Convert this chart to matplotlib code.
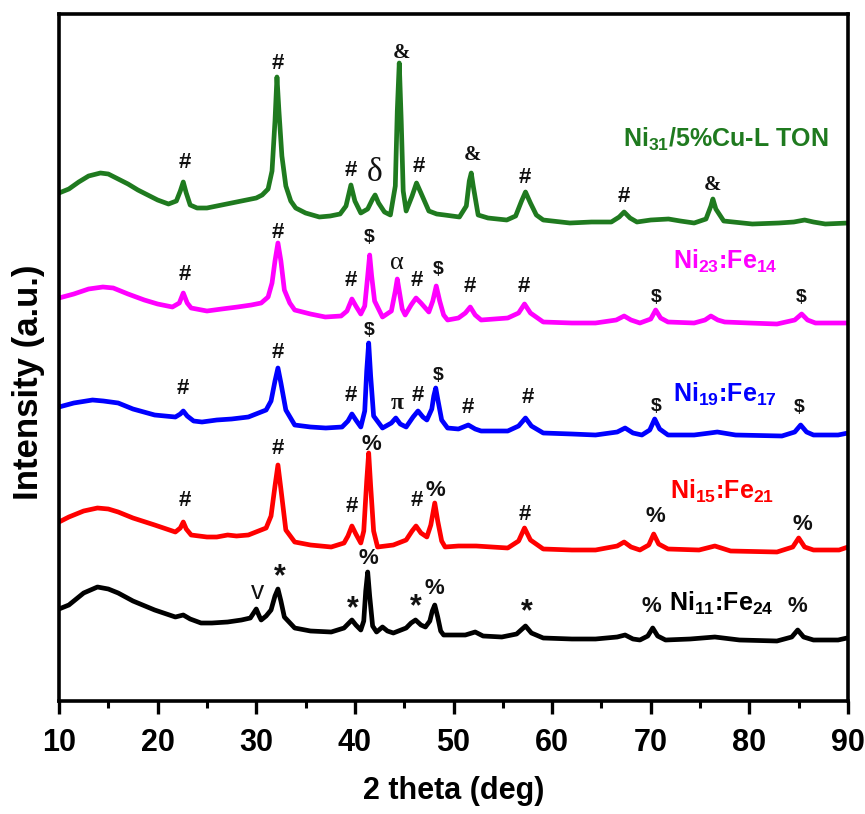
import matplotlib
matplotlib.use("Agg")
import matplotlib.pyplot as plt
from matplotlib.ticker import MultipleLocator

plt.rcParams['font.family'] = ['Liberation Sans', 'DejaVu Sans']
plt.rcParams['mathtext.fontset'] = 'custom'
plt.rcParams['mathtext.rm'] = 'Liberation Sans:bold'
plt.rcParams['mathtext.it'] = 'Liberation Sans:bold'
plt.rcParams['mathtext.bf'] = 'Liberation Sans:bold'
plt.rcParams['mathtext.default'] = 'rm'

# ---------------- data (2theta, intensity in arbitrary stacked units) ----------------
green_x = [10.0, 11.0, 12.0, 13.0, 14.2, 15.0, 16.0, 17.0, 18.0, 19.0, 20.0, 21.1, 21.9, 22.3, 22.6, 22.9, 23.3, 24.0,
           25.0, 26.0, 27.0, 28.0, 29.0, 30.0, 30.6, 31.2, 31.6, 31.9, 32.1, 32.3, 32.6, 33.0, 33.5, 34.0, 35.0, 36.4,
           37.5, 38.5, 39.1, 39.6, 40.0, 40.6, 41.3, 41.8, 42.05, 42.4, 43.0, 43.6, 44.1, 44.3, 44.5, 44.7, 44.9, 45.2,
           45.8, 46.25, 46.7, 47.5, 48.3, 49.1, 50.6, 51.3, 51.6, 51.8, 52.0, 52.5, 53.5, 55.4, 56.3, 56.9, 57.3, 57.8,
           58.4, 59.1, 61.8, 64.0, 66.0, 66.8, 67.3, 67.9, 68.6, 70.0, 71.8, 73.0, 74.4, 75.6, 76.1, 76.3, 76.6, 77.4,
           80.3, 83.0, 84.5, 85.6, 86.5, 87.7, 90.0]
green_y = [508, 512, 519, 525, 528, 527, 522, 517, 511, 506, 501, 497, 500, 510, 519, 508, 496, 493,
           493, 495, 497, 499, 501, 503, 506, 512, 530, 580, 624, 590, 545, 515, 500, 493, 488, 484,
           485, 487, 495, 516, 500, 488, 492, 502, 506, 498, 489, 486, 515, 590, 638, 580, 510, 490,
           505, 518, 508, 490, 487, 486, 484, 495, 520, 528, 515, 486, 483, 481, 485, 500, 509, 498,
           486, 481, 478, 479, 479, 484, 489, 483, 479, 481, 482, 480, 478, 482, 495, 502, 492, 480,
           477, 478, 479, 481, 479, 477, 478]

magenta_x = [10.0, 11.5, 13.0, 14.45, 15.5, 16.0, 17.0, 18.65, 20.0, 21.5, 22.2, 22.6, 23.0, 23.4, 25.0, 26.5, 28.1,
             29.5, 30.5, 31.2, 31.6, 31.9, 32.2, 32.5, 32.85, 33.4, 33.9, 35.5, 37.0, 38.6, 39.2, 39.7, 40.1, 40.6,
             41.0, 41.3, 41.5, 41.7, 42.0, 42.8, 43.7, 44.1, 44.3, 44.5, 44.8, 45.1, 45.7, 46.2, 46.7, 47.5, 47.9,
             48.25, 48.6, 49.0, 49.4, 50.5, 51.2, 51.7, 52.2, 52.8, 55.5, 56.6, 57.2, 57.8, 59.1, 62.0, 64.4, 66.5,
             67.3, 68.0, 68.9, 70.0, 70.5, 71.0, 71.75, 74.4, 75.5, 76.1, 76.8, 77.5, 80.0, 82.8, 84.6, 85.3, 85.9,
             86.7, 90.0]
magenta_y = [403, 407, 412, 414, 413, 411, 407, 401, 397, 394, 398, 408, 398, 393, 390, 392, 394,
             396, 398, 404, 418, 440, 458, 440, 411, 398, 391, 387, 384, 385, 390, 402, 395, 387,
             395, 425, 446, 425, 400, 384, 390, 410, 422, 410, 392, 386, 396, 403, 398, 389, 400,
             415, 400, 386, 381, 383, 388, 394, 386, 381, 383, 388, 397, 388, 379, 378, 378, 381,
             385, 381, 378, 382, 391, 383, 379, 378, 381, 385, 381, 379, 378, 377, 381, 387, 381,
             378, 378]

blue_x = [10.0, 11.5, 13.4, 14.5, 16.0, 17.5, 19.7, 21.8, 22.3, 22.6, 23.0, 23.65, 24.5, 26.0, 27.5, 29.2, 31.0,
          31.5, 31.9, 32.2, 32.5, 33.0, 33.9, 35.5, 37.05, 38.7, 39.3, 39.7, 40.1, 40.6, 41.0, 41.2, 41.4, 41.6,
          41.9, 42.8, 43.7, 44.15, 44.6, 45.2, 45.9, 46.4, 46.9, 47.3, 47.8, 48.0, 48.2, 48.4, 48.8, 49.4, 50.5,
          51.5, 52.2, 52.8, 55.5, 56.6, 57.3, 57.9, 59.1, 62.0, 64.4, 66.6, 67.4, 68.2, 69.1, 69.9, 70.4, 70.9,
          71.75, 74.4, 76.0, 76.75, 78.6, 83.3, 84.6, 85.2, 85.8, 86.5, 89.0, 90.0]
blue_y = [294, 298, 301, 300, 298, 292, 286, 284, 287, 290, 285, 280, 279, 281, 282, 284, 291,
          300, 320, 333, 318, 291, 276, 274, 273, 274, 280, 287, 281, 274, 290, 330, 358, 325,
          285, 273, 278, 283, 277, 274, 284, 290, 284, 281, 292, 305, 313, 302, 281, 273, 272,
          276, 272, 270, 270, 275, 283, 275, 268, 267, 266, 269, 273, 268, 266, 271, 282, 272,
          266, 266, 268, 269, 266, 265, 269, 276, 269, 266, 266, 268]

red_x = [10.0, 11.0, 12.5, 13.9, 15.0, 16.0, 17.5, 19.7, 21.8, 22.3, 22.6, 22.9, 23.4, 25.0, 26.0, 27.1, 28.0, 29.2,
         31.0, 31.5, 31.9, 32.2, 32.5, 33.0, 33.9, 35.5, 37.6, 38.9, 39.3, 39.7, 40.1, 40.6, 40.9, 41.2, 41.4, 41.6,
         41.9, 42.3, 43.9, 45.2, 45.8, 46.2, 46.7, 47.3, 47.7, 48.1, 48.4, 48.8, 49.15, 50.5, 52.3, 55.5, 56.6,
         57.2, 57.8, 59.1, 62.0, 64.4, 66.6, 67.3, 68.0, 68.9, 69.8, 70.3, 70.8, 71.75, 74.9, 76.5, 78.1, 82.8,
         84.4, 85.0, 85.6, 86.5, 89.1, 90.0]
red_y = [179, 184, 190, 193, 192, 189, 183, 176, 169, 173, 179, 172, 166, 164, 164, 166, 165, 166,
         173, 185, 215, 236, 212, 171, 159, 156, 154, 158, 165, 175, 167, 158, 170, 220, 248, 215,
         170, 154, 156, 161, 170, 175, 168, 164, 176, 198, 180, 160, 154, 155, 155, 153, 160,
         173, 161, 152, 151, 151, 155, 159, 154, 151, 156, 167, 157, 152, 151, 155, 150, 149,
         154, 163, 154, 151, 151, 154]

black_x = [10.0, 11.0, 12.5, 13.9, 15.0, 16.0, 17.5, 19.7, 21.8, 22.6, 23.3, 24.4, 25.5, 27.1, 28.5, 29.4, 29.8,
           30.0, 30.3, 30.5, 31.0, 31.5, 31.9, 32.2, 32.5, 32.85, 33.9, 35.5, 37.6, 38.9, 39.3, 39.7, 40.1, 40.6,
           40.9, 41.1, 41.3, 41.5, 41.8, 42.2, 42.8, 43.3, 43.9, 45.2, 45.7, 46.15, 46.7, 47.15, 47.6, 47.85, 48.1,
           48.4, 48.7, 49.0, 51.2, 52.2, 53.0, 54.9, 56.4, 57.3, 57.9, 59.1, 62.0, 64.4, 66.6, 67.4, 68.2, 68.9,
           69.7, 70.2, 70.7, 71.5, 74.0, 76.5, 79.0, 82.8, 84.3, 84.9, 85.5, 86.5, 89.0, 89.9]
black_y = [92, 96, 108, 114, 112, 108, 100, 91, 84, 86, 82, 78, 78, 79, 81, 83, 89,
           92, 85, 81, 85, 91, 105, 112, 100, 84, 73, 70, 69, 73, 77, 81, 76, 71,
           80, 110, 129, 105, 75, 69, 74, 70, 68, 73, 78, 81, 76, 74, 80, 90, 96,
           84, 70, 66, 66, 69, 65, 64, 67, 75, 68, 63, 62, 62, 64, 66, 62, 61,
           65, 73, 65, 61, 62, 64, 61, 60, 64, 71, 64, 61, 61, 63]

series_names = [r'Ni$_{31}$/5%Cu-L TON', r'Ni$_{23}$:Fe$_{14}$', r'Ni$_{19}$:Fe$_{17}$',
                r'Ni$_{15}$:Fe$_{21}$', r'Ni$_{11}$:Fe$_{24}$']
series_colors = ['#1f7a1f', '#ff00ff', '#0000ff', '#ff0000', '#000000']
label_x = [67.2, 72.3, 72.3, 72.0, 71.8]
label_y = [554, 432, 299, 202, 90]

# annotation symbols: (2theta, height)
hash_x = [22.75, 32.2, 39.6, 46.5, 57.2, 67.3,
          22.75, 32.2, 39.6, 46.25, 51.7, 57.1,
          22.6, 32.2, 39.6, 46.4, 51.5, 57.5,
          22.75, 32.2, 39.7, 46.25, 57.2]
hash_y = [539, 638, 531, 535, 524, 504,
          426, 469, 421, 421, 414, 414,
          313, 349, 306, 306, 294, 304,
          201, 253, 194, 201, 186]
amp_x = [44.7, 51.9, 76.3]
amp_y = [648, 546, 516]
dollar_x = [41.5, 48.4, 70.6, 85.3, 41.4, 48.4, 70.6, 85.05]
dollar_y = [463, 432, 404, 404, 371, 326, 295, 294]
pct_x = [41.7, 48.2, 70.45, 85.4, 41.37, 48.1, 70.1, 84.9]
pct_y = [257, 211, 184, 177, 143, 113, 94, 94]
star_x = [32.4, 39.8, 46.15, 57.45]
star_y = [124, 92, 94, 89]
greek_x = [42.05, 44.3, 44.3]
greek_y = [528, 438, 298]
greek_s = ['δ', 'α', 'π']
vee_x = [30.1]
vee_y = [109]

# ---------------- figure ----------------
fig = plt.figure(figsize=(8.65, 8.14), dpi=100)
ax = fig.add_axes([59 / 865, 113 / 814, 789 / 865, 687 / 814])

all_x = [green_x, magenta_x, blue_x, red_x, black_x]
all_y = [green_y, magenta_y, blue_y, red_y, black_y]
for xs, ys, c in zip(all_x, all_y, series_colors):
    ax.plot(xs, ys, color=c, lw=3.4, solid_joinstyle='round')

for name, c, lx, ly in zip(series_names, series_colors, label_x, label_y):
    ax.text(lx, ly, name, color=c, fontsize=18, fontweight='bold', ha='left', va='baseline')

ink = '#111111'
for x, y in zip(hash_x, hash_y):
    ax.text(x, y, '#', fontsize=16, fontweight='bold', ha='center', va='center', color=ink)
for x, y in zip(amp_x, amp_y):
    ax.text(x, y, '&', fontsize=15, fontweight='bold', family=['Liberation Serif'], ha='center', va='center', color=ink)
for x, y in zip(dollar_x, dollar_y):
    ax.text(x, y, '$', fontsize=14, fontweight='bold', ha='center', va='center', color=ink)
for x, y in zip(pct_x, pct_y):
    ax.text(x, y, '%', fontsize=16, fontweight='bold', ha='center', va='center', color=ink)
for x, y in zip(star_x, star_y):
    ax.text(x, y, '*', fontsize=22, fontweight='bold', ha='center', va='center', color=ink)
for x, y, s, fs in zip(greek_x, greek_y, greek_s, [24, 19, 17]):
    ax.text(x, y, s, fontsize=fs, family=['Liberation Serif'], ha='center', va='center', color=ink,
            fontweight='bold' if s == 'π' else 'normal')
for x, y in zip(vee_x, vee_y):
    ax.text(x, y, 'v', fontsize=19, ha='center', va='center', color=ink)

ax.set_xlim(10, 90)
ax.set_ylim(0, 687)
ax.xaxis.set_major_locator(MultipleLocator(10))
ax.xaxis.set_minor_locator(MultipleLocator(5))
ax.set_yticks([])
ax.tick_params(axis='x', which='major', direction='out', length=9.5, width=2.4, labelsize=22, pad=10)
ax.tick_params(axis='x', which='minor', direction='out', length=5, width=2.2)
for lab in ax.get_xticklabels():
    lab.set_fontweight('bold')
for sp in ax.spines.values():
    sp.set_linewidth(2.6)

ax.set_xlabel('2 theta (deg)', fontsize=22, fontweight='bold', labelpad=13)
fig.text(29 / 865, 1 - 382 / 814, 'Intensity (a.u.)', rotation=90, fontsize=25, fontweight='bold',
         ha='center', va='center')

fig.savefig('out.png', dpi=100)
